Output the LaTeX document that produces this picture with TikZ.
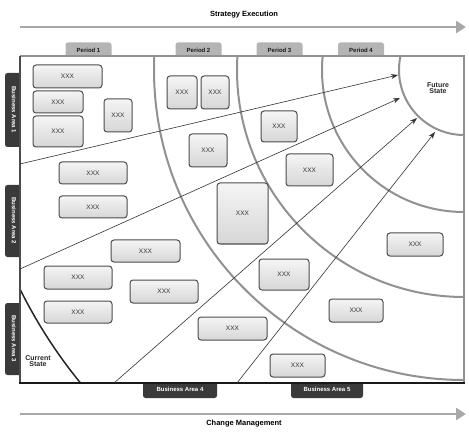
\documentclass[tikz,border=0pt]{standalone}
\definecolor{TabLight}{HTML}{B4B4B4}
\definecolor{TabDark}{HTML}{3A3A3A}
\definecolor{ArcGray}{HTML}{919191}
\definecolor{BandGray}{HTML}{A8A8A8}
\usepackage{fontspec}
\setmainfont{Liberation Sans}
\usepackage{tikz}
\usetikzlibrary{arrows.meta,positioning}

\begin{document}
\begin{tikzpicture}[x=1pt,y=-1pt,
    xbox/.style={draw=black!70,line width=1pt,rounded corners=3pt,
      top color=gray!8,bottom color=gray!32,inner sep=0pt,
      font=\fontsize{6.5}{7}\selectfont,text=black!80},
    toptab/.style={fill=TabLight,rounded corners=2.5pt,minimum width=46pt,
      minimum height=16pt,inner sep=0pt,font=\bfseries\fontsize{6}{7}\selectfont,text=black!90},
    sidetab/.style={fill=TabDark,rounded corners=2.5pt,minimum height=18pt,
      inner sep=0pt,font=\bfseries\fontsize{6}{7}\selectfont,text=white},
    band/.style={BandGray,line width=2.6pt,-{Triangle[length=10pt,width=12pt]}},
    phase/.style={ArcGray,line width=2pt},
    path/.style={black!80,line width=0.6pt,-{Stealth[length=7pt,width=5pt]}},
    statelabel/.style={font=\bfseries\fontsize{7}{8}\selectfont,align=center,text=black!85}]
  \useasboundingbox (0,0) rectangle (469,433);

  % Strategy Execution
  \coordinate (top-l) at (20,27);
  \coordinate (top-r) at (466,27);
  \draw[band] (top-l) -- (top-r);
  \node[font=\bfseries\fontsize{7.5}{9}\selectfont] (strategy) at (244,15) {Strategy Execution};

  % Period tabs
  \node[toptab] (p1) at (88.5,50.5) {Period 1};
  \node[toptab] (p2) at (198.5,50.5) {Period 2};
  \node[toptab] (p3) at (279.5,50.5) {Period 3};
  \node[toptab] (p4) at (361,50.5) {Period 4};

  % Business area tabs
  \node[sidetab,rotate=-90,minimum width=74pt] (ba1) at (14,110) {Business Area 1};
  \node[sidetab,rotate=-90,minimum width=72pt] (ba2) at (14,221) {Business Area 2};
  \node[sidetab,rotate=-90,minimum width=72pt] (ba3) at (14,339) {Business Area 3};
  \node[sidetab,minimum width=74pt] (ba4) at (180,389) {Business Area 4};
  \node[sidetab,minimum width=72pt] (ba5) at (327,389) {Business Area 5};

  % Frame
  \fill[white] (20,56) rectangle (464,383);
  \coordinate (fs) at (464,70);
  \begin{scope}
    \clip (20,56) rectangle (464,383);
    \draw[phase] (fs) circle[radius=65];
    \draw[phase] (fs) circle[radius=142];
    \draw[phase] (fs) circle[radius=227];
    \draw[phase] (fs) circle[radius=310];
    \draw[black!85,line width=1.5pt] (fs) circle[radius=495];
  \end{scope}
  \draw[ArcGray,line width=1.3pt] (20,56) -- (464,56) -- (464,383);
  \draw[black!70,line width=1.3pt] (20,56) -- (20,383);
  \draw[black!90,line width=1.6pt] (19.4,383) -- (464.6,383);

  % Paths to the future state
  \coordinate (s1) at (20,164);
  \coordinate (s2) at (20,269);
  \coordinate (s3) at (114,383);
  \coordinate (s4) at (237,383);
  \coordinate (e1) at (398,75);
  \coordinate (e2) at (400,98);
  \coordinate (e3) at (417,118);
  \coordinate (e4) at (435,132);
  \draw[path] (s1) -- (e1);
  \draw[path] (s2) -- (e2);
  \draw[path] (s3) -- (e3);
  \draw[path] (s4) -- (e4);

  % Initiatives
  \node[xbox,minimum width=69pt,minimum height=23pt] (b1) at (67.5,76.5) {XXX};
  \node[xbox,minimum width=50pt,minimum height=22pt] (b2) at (58,102) {XXX};
  \node[xbox,minimum width=50pt,minimum height=31pt] (b3) at (58,131.5) {XXX};
  \node[xbox,minimum width=28pt,minimum height=33pt] (b4) at (118,115.5) {XXX};
  \node[xbox,minimum width=68pt,minimum height=22pt] (b5) at (93,173) {XXX};
  \node[xbox,minimum width=68pt,minimum height=22pt] (b6) at (93,207) {XXX};
  \node[xbox,minimum width=69pt,minimum height=22pt] (b7) at (145.5,251) {XXX};
  \node[xbox,minimum width=68pt,minimum height=23pt] (b8) at (78,277.5) {XXX};
  \node[xbox,minimum width=68pt,minimum height=22pt] (b9) at (78,312) {XXX};
  \node[xbox,minimum width=68pt,minimum height=23pt] (b10) at (164,291.5) {XXX};
  \node[xbox,minimum width=30pt,minimum height=33pt] (b11) at (182,92.5) {XXX};
  \node[xbox,minimum width=28pt,minimum height=33pt] (b12) at (215,92.5) {XXX};
  \node[xbox,minimum width=38pt,minimum height=33pt] (b13) at (208,150.5) {XXX};
  \node[xbox,minimum width=36pt,minimum height=31pt] (b14) at (279,126.5) {XXX};
  \node[xbox,minimum width=47pt,minimum height=32pt] (b15) at (309.5,170) {XXX};
  \node[xbox,minimum width=51pt,minimum height=61pt] (b16) at (242.5,213.5) {XXX};
  \node[xbox,minimum width=50pt,minimum height=31pt] (b17) at (284,274.5) {XXX};
  \node[xbox,minimum width=69pt,minimum height=23pt] (b18) at (232.5,328.5) {XXX};
  \node[xbox,minimum width=55pt,minimum height=23pt] (b19) at (297.5,365.5) {XXX};
  \node[xbox,minimum width=56pt,minimum height=23pt] (b20) at (415,244.5) {XXX};
  \node[xbox,minimum width=54pt,minimum height=23pt] (b21) at (356,310.5) {XXX};

  % States
  \node[statelabel] (future) at (438,88) {Future\\[-2pt]State};
  \node[statelabel] (current) at (38,361) {Current\\[-2pt]State};

  % Change Management
  \coordinate (bot-l) at (20,414);
  \coordinate (bot-r) at (466,414);
  \draw[band] (bot-l) -- (bot-r);
  \node[font=\bfseries\fontsize{7.5}{9}\selectfont] (change) at (244,424) {Change Management};
\end{tikzpicture}
\end{document}
